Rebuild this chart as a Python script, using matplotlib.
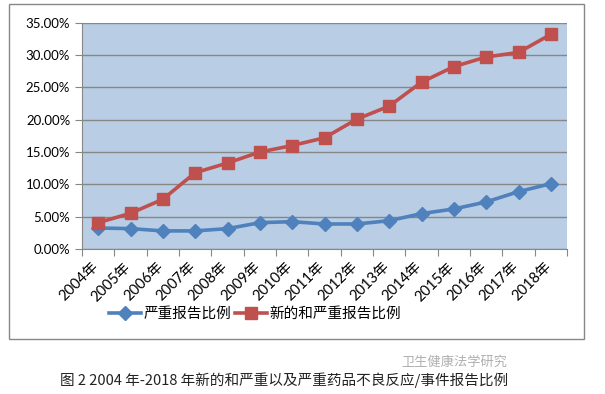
import matplotlib
matplotlib.use('Agg')
import matplotlib.pyplot as plt
import matplotlib.transforms as mtransforms
from matplotlib.patches import Rectangle
from matplotlib.ticker import FuncFormatter, MultipleLocator

plt.rcParams['font.family'] = ['Lato', 'Noto Sans CJK SC', 'DejaVu Sans']

# 数据
years = ['2004年', '2005年', '2006年', '2007年', '2008年', '2009年', '2010年', '2011年',
         '2012年', '2013年', '2014年', '2015年', '2016年', '2017年', '2018年']
serious = [3.25, 3.15, 2.8, 2.8, 3.15, 4.07, 4.23, 3.87, 3.87, 4.38, 5.47, 6.19, 7.28, 8.87, 10.1]
new_serious = [4.07, 5.52, 7.69, 11.8, 13.3, 15.0, 16.0, 17.2, 20.08, 22.1, 25.8, 28.2, 29.7, 30.4, 33.2]
labels = ['严重报告比例', '新的和严重报告比例']

W, H = 605, 394
fig = plt.figure(figsize=(W / 100, H / 100), dpi=100)
ax = fig.add_axes([82 / W, 1 - 249 / H, (567 - 82) / W, (249 - 22.7) / H])
ax.set_facecolor('#B9CDE5')

x = list(range(len(years)))
ax.plot(x, serious, color='#4F81BD', lw=2.6, marker='D', ms=7, label=labels[0], zorder=3)
ax.plot(x, new_serious, color='#C0504D', lw=2.6, marker='s', ms=8.5, label=labels[1], zorder=3)

ax.set_xlim(-0.5, len(years) - 0.5)
ax.set_ylim(0, 35)
ax.yaxis.set_major_locator(MultipleLocator(5))
ax.yaxis.set_major_formatter(FuncFormatter(lambda v, p: '%.2f%%' % v))
ax.grid(axis='y', color='#878787', lw=1)
ax.set_axisbelow(True)

# x轴刻度在类别边界
ax.set_xticks([i - 0.5 for i in range(len(years) + 1)])
ax.set_xticklabels([])
ax.set_xticks(x, minor=True)
ax.set_xticklabels(years, minor=True, rotation=45, ha='right', va='top',
                   rotation_mode='anchor', fontsize=10.5, color='black')
ax.tick_params(axis='x', which='minor', length=0, pad=4)
ax.tick_params(axis='x', which='major', length=5, color='#878787')
ax.tick_params(axis='y', length=5, color='#878787', labelsize=9.5)
shift = mtransforms.ScaledTranslation(-7 / 100, -5 / 100, fig.dpi_scale_trans)
for lab in ax.get_xticklabels(minor=True):
    lab.set_transform(lab.get_transform() + shift)

for s in ['top', 'right']:
    ax.spines[s].set_visible(False)
for s in ['left', 'bottom']:
    ax.spines[s].set_color('#878787')

leg = fig.legend(loc='center', bbox_to_anchor=(255 / W, 1 - 314 / H), ncol=2, frameon=False,
                 prop={'family': ['Noto Sans CJK SC'], 'size': 10.5},
                 handlelength=2.2, handletextpad=0.2, columnspacing=0.2)

# 外框
fig.patches.append(Rectangle((9 / W, 1 - 339 / H), (584 - 9) / W, (339 - 4) / H,
                             transform=fig.transFigure, fill=False, ec='#878787', lw=1))

fig.text(454 / W, 1 - 362 / H, '卫生健康法学研究', fontsize=9.5, color='#b0b0b0',
         ha='center', va='center', family=['Noto Sans CJK SC'])
fig.text(284 / W, 1 - 380 / H, '图 2 2004 年-2018 年新的和严重以及严重药品不良反应/事件报告比例',
         fontsize=10.5, color='#222222', ha='center', va='center', family=['Noto Sans CJK SC'])

fig.savefig('out.png', dpi=100)
